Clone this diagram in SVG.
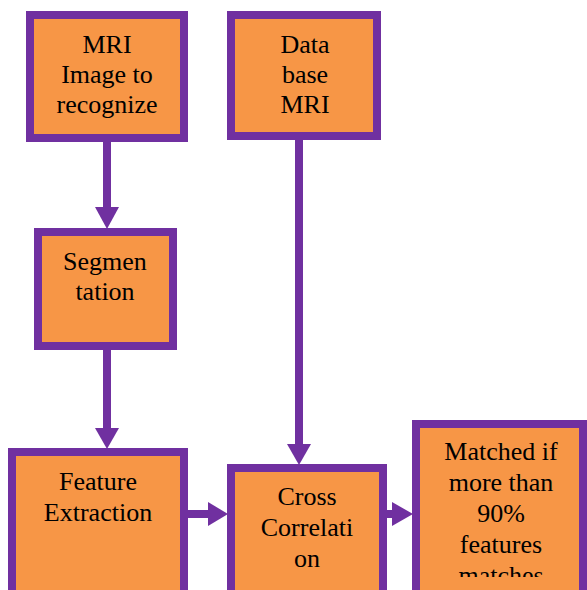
<svg xmlns="http://www.w3.org/2000/svg" width="587" height="590" viewBox="0 0 587 590">
<style>
.box{fill:#F79646;stroke:#7030A0;stroke-width:8}
.t{font-size:26px;fill:#000;text-anchor:middle}
.ln{stroke:#7030A0;stroke-width:8;fill:none}
.hd{fill:#7030A0}
</style>
<defs>
<clipPath id="c6"><rect x="420" y="428" width="160" height="149"/></clipPath>
</defs>
<rect width="587" height="590" fill="#fff"/>
<g id="connectors">
<line class="ln" x1="107" y1="142" x2="107" y2="209"/>
<polygon class="hd" points="95,207 119,207 107,229"/>
<line class="ln" x1="107" y1="350" x2="107" y2="430"/>
<polygon class="hd" points="95,428 119,428 107,449"/>
<line class="ln" x1="299" y1="140" x2="299" y2="446"/>
<polygon class="hd" points="287,444 311,444 299,465"/>
<line class="ln" x1="188" y1="514" x2="210" y2="514"/>
<polygon class="hd" points="208,502 208,526 228,514"/>
<line class="ln" x1="387" y1="514" x2="394" y2="514"/>
<polygon class="hd" points="392,502 392,526 413,514"/>
</g>
<g font-family="Liberation Serif, DejaVu Serif, serif">
<g id="n1">
<rect class="box" x="30" y="15" width="154" height="123"/>
<text class="t" x="107" y="53">MRI</text>
<text class="t" x="107" y="83">Image to</text>
<text class="t" x="107" y="113">recognize</text>
</g>
<g id="n2">
<rect class="box" x="231" y="15" width="146" height="121"/>
<text class="t" x="305" y="53">Data</text>
<text class="t" x="305" y="83">base</text>
<text class="t" x="305" y="113">MRI</text>
</g>
<g id="n3">
<rect class="box" x="38" y="232" width="135" height="114"/>
<text class="t" x="105" y="270">Segmen</text>
<text class="t" x="105" y="300">tation</text>
</g>
<g id="n4">
<rect class="box" x="12" y="452" width="172" height="150"/>
<text class="t" x="98" y="490">Feature</text>
<text class="t" x="98" y="521">Extraction</text>
</g>
<g id="n5">
<rect class="box" x="231" y="468" width="152" height="140"/>
<text class="t" x="307" y="505">Cross</text>
<text class="t" x="307" y="536">Correlati</text>
<text class="t" x="307" y="567">on</text>
</g>
<g id="n6">
<rect class="box" x="416" y="424" width="167" height="180"/>
<g clip-path="url(#c6)">
<text class="t" x="501" y="460">Matched if</text>
<text class="t" x="501" y="491">more than</text>
<text class="t" x="501" y="522">90%</text>
<text class="t" x="501" y="553">features</text>
<text class="t" x="501" y="584">matches</text>
</g>
</g>
</g>
</svg>
